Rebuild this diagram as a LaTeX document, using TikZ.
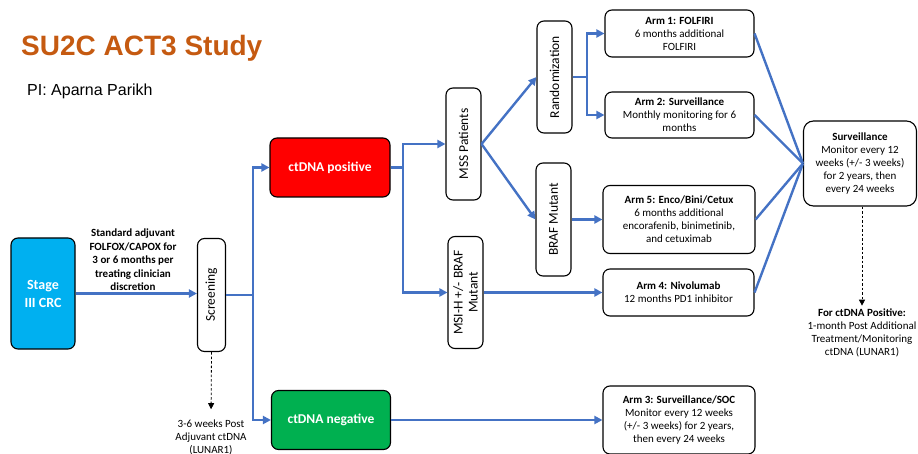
\documentclass[tikz,border=0pt]{standalone}
\usepackage{fontspec}
\setmainfont{Carlito}
\newfontfamily\arialfont{Liberation Sans}
\usetikzlibrary{arrows.meta}
\definecolor{titleor}{HTML}{C55A11}
\definecolor{lineblue}{HTML}{4472C4}
\definecolor{stageblue}{HTML}{00B0F0}
\definecolor{posred}{HTML}{FF0000}
\definecolor{neggreen}{HTML}{00B050}
\begin{document}
\begin{tikzpicture}[x=1pt,y=-1pt,
  box/.style={draw=black, line width=1.1pt, rounded corners=7pt, fill=white, inner sep=0pt},
  armbox/.style={box, align=center, font=\fontsize{11}{13}\selectfont},
  vtext/.style={rotate=90, align=center, font=\fontsize{13.5}{15}\selectfont},
  conn/.style={draw=lineblue, line width=2.4pt},
  arr/.style={conn, -{Triangle[length=8pt,width=8pt]}},
  dasharr/.style={draw=black, line width=0.8pt, dash pattern=on 2.5pt off 2pt, -{Triangle[length=6pt,width=6pt]}},
  note/.style={align=center, font=\fontsize{11}{13}\selectfont, inner sep=0pt}
]
\useasboundingbox (0,0) rectangle (918,454);
% title
\node[anchor=base west, inner sep=0pt, text=titleor, font=\arialfont\bfseries\fontsize{28}{32}\selectfont] (title) at (21,56) {SU2C ACT3 Study};
\node[anchor=base west, inner sep=0pt, font=\arialfont\fontsize{16}{18}\selectfont] (pi) at (27,96) {PI: Aparna Parikh};

% boxes
\node[box, fill=stageblue, minimum width=64pt, minimum height=111pt, text=white, align=center,
  font=\bfseries\fontsize{14}{18}\selectfont] (stage) at (43,293.5) {Stage\\III CRC};
\node[box, minimum width=28pt, minimum height=113pt] (scr) at (211.5,295) {};
\node[vtext] (scrt) at (scr) {Screening};
\node[box, fill=posred, minimum width=120pt, minimum height=59pt, text=white,
  font=\bfseries\fontsize{13.5}{16}\selectfont] (pos) at (330,167.5) {ctDNA positive};
\node[box, fill=neggreen, minimum width=119pt, minimum height=59pt, text=white,
  font=\bfseries\fontsize{13.5}{16}\selectfont] (neg) at (331,420) {ctDNA negative};
\node[box, minimum width=35pt, minimum height=112pt] (mss) at (463.5,144) {};
\node[vtext] (msst) at (mss) {MSS Patients};
\node[box, minimum width=35pt, minimum height=112pt] (msi) at (465.5,292.5) {};
\node[vtext] (msit) at (msi) {MSI-H +/- BRAF\\Mutant};
\node[box, minimum width=35pt, minimum height=112pt] (rand) at (554.5,77) {};
\node[vtext] (randt) at (rand) {Randomization};
\node[box, minimum width=35pt, minimum height=113pt] (braf) at (553.5,219.5) {};
\node[vtext] (braft) at (braf) {BRAF Mutant};

\node[armbox, minimum width=149pt, minimum height=47pt] (arm1) at (679.5,33.5)
  {\textbf{Arm 1: FOLFIRI}\\6 months additional\\FOLFIRI};
\node[armbox, minimum width=149pt, minimum height=46pt] (arm2) at (679.5,115)
  {\textbf{Arm 2: Surveillance}\\Monthly monitoring for 6\\months};
\node[armbox, minimum width=152pt, minimum height=68pt] (arm5) at (679,219.5)
  {\textbf{Arm 5: Enco/Bini/Cetux}\\6 months additional\\encorafenib, binimetinib,\\and cetuximab};
\node[armbox, minimum width=151pt, minimum height=47pt] (arm4) at (678.5,292.5)
  {\textbf{Arm 4: Nivolumab}\\12 months PD1 inhibitor};
\node[armbox, minimum width=152pt, minimum height=68pt] (arm3) at (679,420)
  {\textbf{Arm 3: Surveillance/SOC}\\Monitor every 12 weeks\\(+/- 3 weeks) for 2 years,\\then every 24 weeks};
\node[armbox, rounded corners=10pt, minimum width=113pt, minimum height=85pt] (surv) at (860,163.5)
  {\textbf{Surveillance}\\Monitor every 12\\weeks (+/- 3 weeks)\\for 2 years, then\\every 24 weeks};

% notes
\node[note, font=\bfseries\fontsize{11}{13.5}\selectfont] (std) at (133,260)
  {Standard adjuvant\\FOLFOX/CAPOX for\\3 or 6 months per\\treating clinician\\discretion};
\node[note] (wk) at (211,437) {3-6 weeks Post\\Adjuvant ctDNA\\(LUNAR1)};
\node[note] (fp) at (862,333) {\textbf{For ctDNA Positive:}\\1-month Post Additional\\Treatment/Monitoring\\ctDNA (LUNAR1)};

% junctions
\coordinate (j1) at (253,295);
\coordinate (j2) at (403,167.5);
\coordinate (j3) at (587,77);

% connectors
\draw[arr] (stage.east) -- (stage.east -| scr.west) coordinate (se);
\draw[conn] (scr.east) -- (j1);
\draw[arr] (j1) |- (pos.west);
\draw[arr] (j1) |- (neg.west);
\draw[conn] (pos.east) -- (j2);
\draw[arr] (j2) |- (mss.west);
\draw[arr] (j2) |- (msi.west);
\draw[arr] (mss.east) -- (rand.west);
\draw[arr] (mss.east) -- (braf.west);
\draw[conn] (rand.east) -- (j3);
\draw[arr] (j3) |- (arm1.west);
\draw[arr] (j3) |- (arm2.west);
\draw[arr] (braf.east) -- (braf.east -| arm5.west) coordinate (b5);
\draw[arr] (msi.east) -- (arm4.west);
\draw[arr] (neg.east) -- (arm3.west);
\draw[conn] (arm1.east) -- (surv.west);
\draw[conn] (arm2.east) -- (surv.west);
\draw[conn] (arm5.east) -- (surv.west);
\draw[conn] (arm4.east) -- (surv.west);
\draw[dasharr, shorten >=10pt] (scr.south) -- (wk.north);
\draw[dasharr, shorten >=3pt] (surv.south -| fp.north) -- (fp.north);
\end{tikzpicture}
\end{document}
